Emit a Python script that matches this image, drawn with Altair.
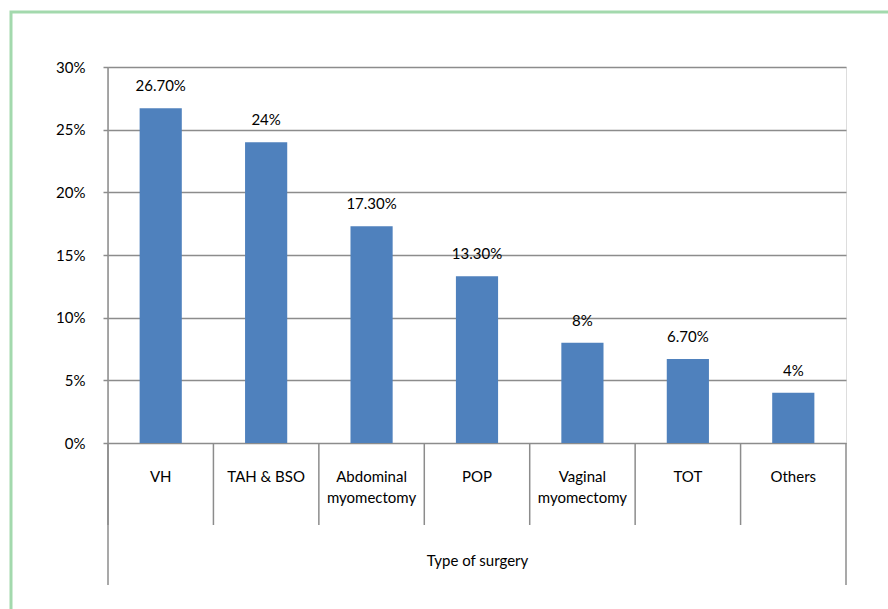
import altair as alt
import pandas as pd

categories = ["VH", "TAH & BSO", "Abdominal\nmyomectomy", "POP",
              "Vaginal\nmyomectomy", "TOT", "Others"]
values = [0.267, 0.24, 0.173, 0.133, 0.08, 0.067, 0.04]
value_labels = ["26.70%", "24%", "17.30%", "13.30%", "8%", "6.70%", "4%"]
y_ticks = [0, 0.05, 0.10, 0.15, 0.20, 0.25, 0.30]

df = pd.DataFrame({"cat": categories, "val": values, "lab": value_labels})
one = pd.DataFrame({"a": [0]})

FONT = "Lato"
GRAY = "#8c8c8c"
W, H = 738, 376

xenc = alt.X(
    "cat:N", sort=categories,
    scale=alt.Scale(paddingInner=0, paddingOuter=0),
    axis=alt.Axis(labelAngle=0, ticks=False, tickSize=0, domain=False,
                  labelPadding=26, labelLineHeight=21, labelFontSize=15,
                  labelFont=FONT, labelColor="black", labelLimit=0,
                  labelExpr="split(datum.label, '\\n')",
                  title="Type of surgery", titleFont=FONT, titleFontSize=15,
                  titleFontWeight="normal", titleColor="black",
                  titleX=W / 2, titleY=117, titleBaseline="middle"),
)
yenc = alt.Y(
    "val:Q",
    scale=alt.Scale(domain=[0, 0.30], nice=False),
    axis=alt.Axis(values=y_ticks, format=".0%", grid=True, gridColor=GRAY,
                  gridWidth=1.5, domain=False, ticks=True, tickSize=5,
                  tickColor=GRAY, tickWidth=1.5, labelPadding=18,
                  labelFont=FONT, labelFontSize=15, labelColor="black",
                  title=None),
)

base = alt.Chart(df)
bars = base.mark_bar(color="#4f81bd", width=alt.RelativeBandSize(0.4)).encode(x=xenc, y=yenc)
texts = base.mark_text(font=FONT, fontSize=15, color="black", baseline="middle", dy=-22).encode(
    x=alt.X("cat:N", sort=categories), y="val:Q", text="lab:N")
dividers = base.mark_rule(color=GRAY, strokeWidth=1.5).encode(
    x=alt.X("cat:N", sort=categories, bandPosition=0),
    y=alt.value(H), y2=alt.value(458))
left_line = alt.Chart(one).mark_rule(color=GRAY, strokeWidth=1.5).encode(
    x=alt.value(0), y=alt.value(0), y2=alt.value(518))
right_line = alt.Chart(one).mark_rule(color=GRAY, strokeWidth=1.5).encode(
    x=alt.value(W), y=alt.value(H), y2=alt.value(518))
frame = alt.Chart(one).mark_rect(fillOpacity=0, stroke="#a3d9ad", strokeWidth=3).encode(
    x=alt.value(-97), x2=alt.value(820), y=alt.value(-55), y2=alt.value(600))

chart = alt.layer(frame, bars, texts, dividers, left_line, right_line).properties(
    width=W, height=H,
    autosize=alt.AutoSizeParams(type="none"),
    padding={"left": 108, "top": 67, "right": 42, "bottom": 166},
).configure_view(stroke=None).configure(background="white")

chart.save("out.html", embed_options={"renderer": "svg", "actions": False})
